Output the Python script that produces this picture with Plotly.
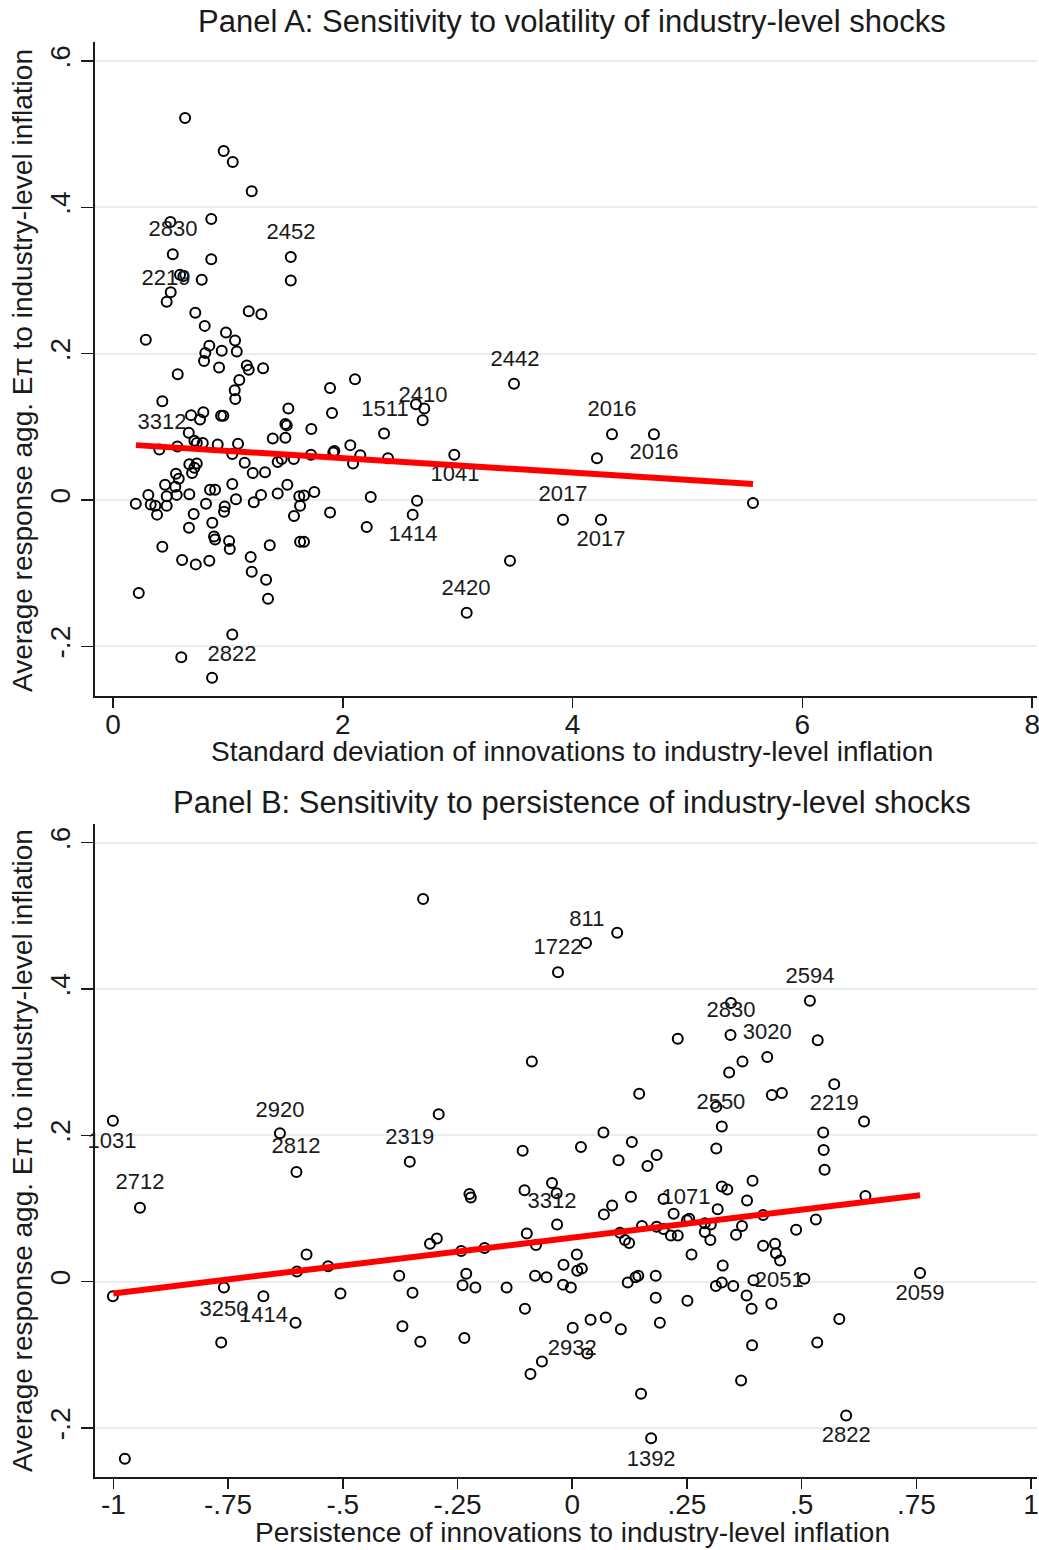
import plotly.graph_objects as go

# ---------------- Panel A data ----------------
a_x = [0.627, 0.963, 1.042, 1.207, 0.499, 0.855, 0.520, 0.855, 1.547, 0.583,
       0.612, 0.772, 1.547, 0.502, 0.467, 0.716, 1.181, 1.291, 0.798, 0.983,
       0.285, 1.062, 0.838, 0.803, 0.946, 1.077, 0.792, 0.923, 1.164, 1.181,
       1.306, 0.563, 1.099, 1.059, 1.064, 0.429, 1.526, 0.786, 0.679, 0.757,
       0.940, 0.960, 1.500, 1.512, 0.659, 1.390, 1.500, 0.708, 0.729, 0.781,
       0.911, 1.088, 0.403, 0.560, 1.038, 1.146, 1.433, 1.468, 1.573, 0.664,
       0.729, 0.708, 0.688, 0.548, 0.572, 1.216, 1.323, 0.453, 0.542, 0.844,
       0.888, 1.038, 1.517, 0.307, 0.467, 0.554, 0.664, 0.198, 0.328, 0.368,
       0.467, 0.383, 0.809, 0.972, 0.966, 1.070, 1.225, 1.288, 1.433, 1.621,
       1.628, 1.575, 0.702, 0.864, 0.661, 0.879, 0.888, 1.010, 1.016, 1.198,
       1.364, 1.628, 0.429, 0.601, 0.720, 0.838, 1.207, 1.332, 1.349, 0.224,
       1.038, 0.594, 0.862, 2.106, 1.889, 1.906, 2.637, 2.709, 2.695, 1.726,
       2.359, 2.065, 1.926, 1.917, 1.723, 2.152, 2.089, 2.393, 2.970, 1.752,
       1.662, 1.889, 2.243, 2.646, 2.608, 2.208, 1.662, 3.078, 3.490, 4.343,
       4.708, 4.212, 3.916, 4.247, 3.455, 5.570]
a_y = [0.522, 0.477, 0.462, 0.422, 0.380, 0.384, 0.336, 0.329, 0.332, 0.308,
       0.306, 0.301, 0.300, 0.284, 0.271, 0.256, 0.258, 0.254, 0.238, 0.229,
       0.219, 0.218, 0.211, 0.201, 0.204, 0.203, 0.190, 0.181, 0.184, 0.178,
       0.180, 0.172, 0.164, 0.150, 0.138, 0.135, 0.125, 0.120, 0.116, 0.110,
       0.115, 0.115, 0.104, 0.102, 0.092, 0.084, 0.085, 0.081, 0.078, 0.078,
       0.076, 0.077, 0.069, 0.073, 0.063, 0.051, 0.052, 0.056, 0.056, 0.049,
       0.050, 0.044, 0.037, 0.036, 0.029, 0.037, 0.038, 0.021, 0.018, 0.014,
       0.014, 0.022, 0.021, 0.007, 0.005, 0.007, 0.008, -0.005, -0.006, -0.008,
       -0.008, -0.020, -0.005, -0.009, -0.016, 0.001, -0.003, 0.007, 0.009, 0.005,
       -0.008, -0.022, -0.019, -0.031, -0.038, -0.050, -0.054, -0.056, -0.067, -0.078,
       -0.062, -0.057, -0.064, -0.082, -0.088, -0.083, -0.098, -0.109, -0.135, -0.127,
       -0.184, -0.215, -0.243, 0.165, 0.153, 0.119, 0.131, 0.125, 0.109, 0.097,
       0.091, 0.075, 0.067, 0.065, 0.062, 0.061, 0.050, 0.057, 0.062, 0.011,
       0.006, -0.017, 0.004, -0.001, -0.020, -0.037, -0.057, -0.154, 0.159, 0.090,
       0.090, 0.057, -0.027, -0.027, -0.083, -0.004]
a_fit_x = [0.20, 5.57]
a_fit_y = [0.075, 0.022]
a_lab_text = ["2830", "2452", "2219", "3312", "2442", "2410", "1511", "2016",
              "2016", "1041", "2017", "2017", "1414", "2420", "2822"]
a_lab_x = [0.522, 1.549, 0.461, 0.426, 3.499, 2.698, 2.367, 4.343,
           4.708, 2.977, 3.916, 4.247, 2.611, 3.072, 1.036]
a_lab_y = [0.368, 0.364, 0.302, 0.105, 0.190, 0.141, 0.122, 0.123,
           0.063, 0.033, 0.006, -0.056, -0.048, -0.122, -0.212]

# ---------------- Panel B data ----------------
b_x = [-0.088, -0.291, -0.354, -0.108, 0.019, 0.068, 0.101, 0.130, -0.044, -0.104,
       -0.034, -0.224, -0.221, 0.087, 0.069, 0.128, -0.033, -0.099, -0.079, -0.310,
       -0.295, -0.242, -0.191, 0.115, 0.104, 0.124, 0.010, -0.019, 0.011, 0.021,
       -0.377, -0.231, -0.239, -0.211, -0.143, -0.081, -0.056, -0.020, -0.003, 0.121,
       -0.348, -0.103, -0.370, -0.331, -0.235, 0.001, 0.040, 0.073, 0.106, 0.033,
       -0.066, -0.091, 0.518, 0.346, 0.230, 0.345, 0.535, 0.425, 0.371, 0.342,
       0.571, 0.146, 0.435, 0.457, 0.314, 0.326, 0.636, 0.547, 0.314, 0.548,
       0.184, 0.164, 0.550, 0.393, 0.326, 0.338, 0.639, 0.199, 0.381, 0.317,
       0.221, 0.250, 0.255, 0.152, 0.184, 0.199, 0.215, 0.230, 0.289, 0.302,
       0.289, 0.301, 0.357, 0.370, 0.416, 0.488, 0.531, 0.260, 0.416, 0.442,
       0.444, 0.453, 0.328, 0.138, 0.144, 0.182, 0.313, 0.326, 0.351, 0.395,
       0.506, 0.182, 0.251, 0.380, 0.391, 0.434, 0.191, 0.582, 0.392, 0.534,
       0.368, 0.150, 0.597, -1.001, -0.942, -0.637, -0.601, -0.579, -0.600, -0.532,
       -1.001, -0.759, -0.673, -0.505, -0.603, -0.765, -0.975, -0.325, 0.098, 0.030,
       -0.031, 0.758, 0.172]
b_y = [0.301, 0.229, 0.164, 0.179, 0.184, 0.204, 0.166, 0.191, 0.135, 0.125,
       0.121, 0.120, 0.115, 0.104, 0.092, 0.116, 0.078, 0.066, 0.050, 0.052,
       0.059, 0.042, 0.046, 0.057, 0.067, 0.053, 0.037, 0.023, 0.015, 0.018,
       0.008, 0.011, -0.005, -0.008, -0.008, 0.008, 0.006, -0.004, -0.008, -0.001,
       -0.015, -0.037, -0.061, -0.082, -0.077, -0.063, -0.052, -0.049, -0.065, -0.098,
       -0.109, -0.126, 0.384, 0.381, 0.332, 0.337, 0.330, 0.307, 0.301, 0.286,
       0.270, 0.257, 0.255, 0.258, 0.239, 0.212, 0.219, 0.204, 0.182, 0.180,
       0.173, 0.158, 0.153, 0.138, 0.130, 0.126, 0.117, 0.113, 0.111, 0.099,
       0.093, 0.084, 0.086, 0.076, 0.075, 0.072, 0.063, 0.063, 0.080, 0.078,
       0.068, 0.057, 0.064, 0.076, 0.091, 0.071, 0.085, 0.037, 0.049, 0.052,
       0.039, 0.029, 0.022, 0.006, 0.008, 0.008, -0.006, -0.001, -0.006, 0.002,
       0.004, -0.022, -0.026, -0.019, -0.037, -0.030, -0.056, -0.051, -0.087, -0.083,
       -0.135, -0.153, -0.183, 0.220, 0.101, 0.203, 0.150, 0.037, 0.014, 0.021,
       -0.020, -0.008, -0.020, -0.016, -0.056, -0.083, -0.242, 0.523, 0.477, 0.463,
       0.423, 0.012, -0.214]
b_fit_x = [-1.0, 0.758]
b_fit_y = [-0.016, 0.118]
b_lab_text = ["811", "1722", "2594", "2830", "3020", "2550", "2219", "2920",
              "1031", "2812", "2319", "2712", "3312", "1071", "2059", "2051",
              "3250", "1414", "2932", "2822", "1392", "1412"]
b_lab_x = [0.032, -0.031, 0.518, 0.346, 0.425, 0.324, 0.571, -0.637,
           -1.003, -0.602, -0.354, -0.942, -0.044, 0.248, 0.758, 0.451,
           -0.759, -0.673, 0.000, 0.597, 0.172, -0.975]
b_lab_y = [0.494, 0.455, 0.416, 0.369, 0.339, 0.243, 0.242, 0.233,
           0.190, 0.183, 0.196, 0.134, 0.108, 0.113, -0.017, 0.000,
           -0.039, -0.047, -0.093, -0.212, -0.244, -0.270]

a_xticks = [0, 2, 4, 6, 8]
a_xticktext = ["0", "2", "4", "6", "8"]
b_xticks = [-1, -0.75, -0.5, -0.25, 0, 0.25, 0.5, 0.75, 1]
b_xticktext = ["-1", "-.75", "-.5", "-.25", "0", ".25", ".5", ".75", "1"]
yticks = [-0.2, 0, 0.2, 0.4, 0.6]
yticktext = ["-.2", "0", ".2", ".4", ".6"]

FONT = "Liberation Sans, Arial, Helvetica, sans-serif"
INK = "#1a1a1a"

fig = go.Figure()

marker = dict(symbol="circle-open", size=10, color="black", line=dict(width=2, color="black"))

fig.add_trace(go.Scatter(x=a_x, y=a_y, mode="markers", marker=marker,
                         xaxis="x", yaxis="y", showlegend=False, cliponaxis=False))
fig.add_trace(go.Scatter(x=a_lab_x, y=a_lab_y, text=a_lab_text, mode="text",
                         textposition="middle center",
                         textfont=dict(family=FONT, size=22, color=INK),
                         xaxis="x", yaxis="y", showlegend=False, cliponaxis=False))
fig.add_trace(go.Scatter(x=a_fit_x, y=a_fit_y, mode="lines",
                         line=dict(color="#ff0000", width=6),
                         xaxis="x", yaxis="y", showlegend=False))

fig.add_trace(go.Scatter(x=b_x, y=b_y, mode="markers", marker=marker,
                         xaxis="x2", yaxis="y2", showlegend=False, cliponaxis=False))
fig.add_trace(go.Scatter(x=b_lab_x, y=b_lab_y, text=b_lab_text, mode="text",
                         textposition="middle center",
                         textfont=dict(family=FONT, size=22, color=INK),
                         xaxis="x2", yaxis="y2", showlegend=False, cliponaxis=False))
fig.add_trace(go.Scatter(x=b_fit_x, y=b_fit_y, mode="lines",
                         line=dict(color="#ff0000", width=6),
                         xaxis="x2", yaxis="y2", showlegend=False))

xcommon = dict(ticks="outside", ticklen=10, tickwidth=1.5, tickcolor=INK,
               showline=True, linewidth=2, linecolor=INK, showgrid=False,
               zeroline=False, automargin=False, ticklabelstandoff=-8,
               ticklabeloverflow="allow",
               tickfont=dict(family=FONT, size=28, color=INK))
ycommon = dict(ticks="outside", ticklen=12, tickwidth=1.5, tickcolor=INK,
               showline=True, linewidth=2, linecolor=INK, showgrid=True,
               gridcolor="#e6eef0", gridwidth=2, zeroline=False, automargin=False,
               tickangle=-90, tickvals=yticks, ticktext=yticktext,
               tickfont=dict(family=FONT, size=28, color=INK))

fig.update_layout(
    width=1039, height=1550, autosize=False,
    margin=dict(l=95, r=2, t=0, b=0, autoexpand=False),
    paper_bgcolor="white", plot_bgcolor="white",
    font=dict(family=FONT, color=INK),
    hovermode=False,
    xaxis=dict(domain=[0, 1], anchor="y", range=[-0.157, 8.042],
               tickvals=a_xticks, ticktext=a_xticktext, **xcommon),
    yaxis=dict(domain=[0.55097, 0.97290], anchor="x", range=[-0.2679, 0.626], **ycommon),
    xaxis2=dict(domain=[0, 1], anchor="y2", range=[-1.040, 1.0129],
                tickvals=b_xticks, ticktext=b_xticktext, **xcommon),
    yaxis2=dict(domain=[0.04729, 0.46839], anchor="x2", range=[-0.2665, 0.6255], **ycommon),
)

ann = [
    dict(text="Panel A: Sensitivity to volatility of industry-level shocks",
         x=0.5064, y=0.98581, size=31, angle=0),
    dict(text="Panel B: Sensitivity to persistence of industry-level shocks",
         x=0.5064, y=0.48194, size=31, angle=0),
    dict(text="Standard deviation of innovations to industry-level inflation",
         x=0.5064, y=0.51484, size=28, angle=0),
    dict(text="Persistence of innovations to industry-level inflation",
         x=0.5064, y=0.01161, size=28, angle=0),
    dict(text="Average response agg. E\u03c0 to industry-level inflation",
         x=-0.0775, y=0.76129, size=28, angle=-90),
    dict(text="Average response agg. E\u03c0 to industry-level inflation",
         x=-0.0775, y=0.25806, size=28, angle=-90),
]
for a in ann:
    fig.add_annotation(text=a["text"], x=a["x"], y=a["y"], xref="paper", yref="paper",
                       xanchor="center", yanchor="middle", showarrow=False,
                       textangle=a["angle"],
                       font=dict(family=FONT, size=a["size"], color=INK))

# remove the browser's default page margin so the 1039x1550 figure fills the window
fig.write_html("out.html",
               config={"displayModeBar": False, "staticPlot": True},
               post_script="document.body.style.margin='0px';document.body.style.overflow='hidden';")
